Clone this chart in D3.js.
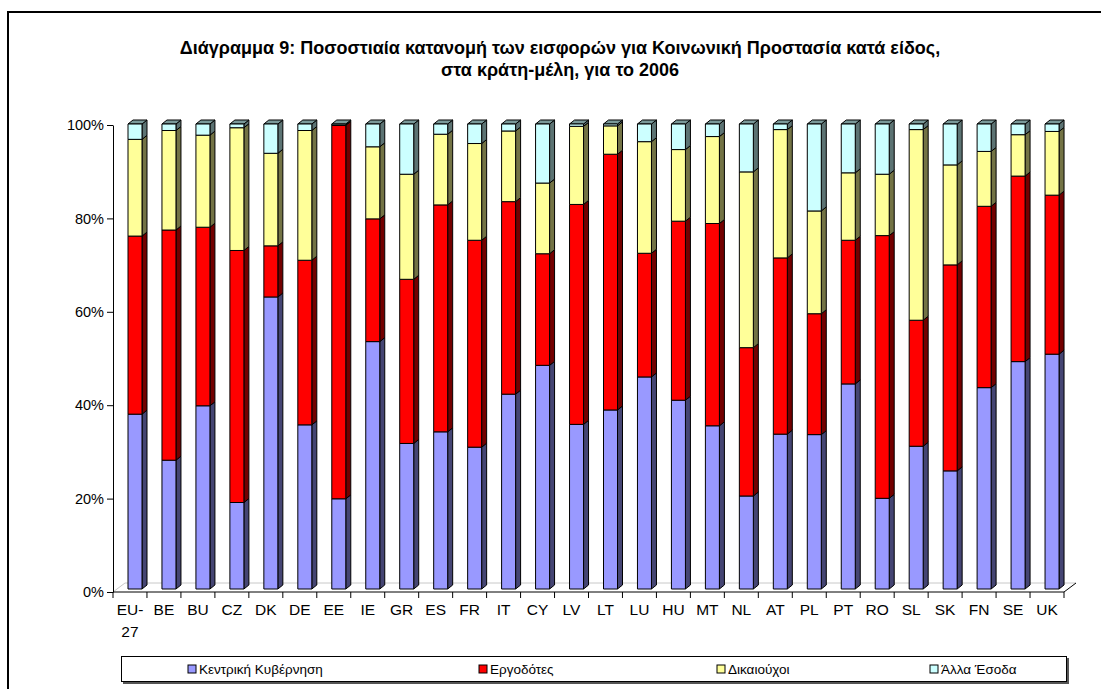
<!DOCTYPE html>
<meta charset="utf-8">
<style>
    body { margin: 0; background: #fff; }
    text { font-family: Arial, "Liberation Sans", sans-serif; fill: #000; }
    .title { font-size: 18px; font-weight: bold; }
    .yAxis text { font-size: 14.5px; }
    .yAxis path, .yAxis line { stroke: #000; }
    .catLabel { font-size: 15.5px; }
    .legend text { font-size: 13.5px; }
    .face { stroke: #000; stroke-width: 1; stroke-linejoin: round; }
</style>
<body>
<svg width="1101" height="689"></svg>
</body>
<script src="https://d3js.org/d3.v7.min.js"></script>
<script>

    // data (percent of contributions, 2006)
    var categories = ["EU-27","BE","BU","CZ","DK","DE","EE","IE","GR","ES","FR","IT","CY","LV",
                      "LT","LU","HU","MT","NL","AT","PL","PT","RO","SL","SK","FN","SE","UK"];
    var centralGov  = [37.6,27.7,39.4,18.6,62.8,35.3,19.4,53.2,31.3,33.8,30.5,41.9,48.1,35.4,
                       38.5,45.6,40.6,35.1,20.0,33.3,33.2,44.1,19.5,30.7,25.4,43.3,48.9,50.5];
    var employers   = [38.3,49.5,38.4,54.2,11.0,35.4,80.3,26.4,35.3,48.8,44.5,41.4,24.0,47.3,
                       55.0,26.6,38.5,43.5,31.9,37.9,26.0,30.9,56.5,27.1,44.3,39.0,39.9,34.2];
    var beneficiaries = [20.8,21.4,19.8,26.4,19.9,27.9,0.1,15.5,22.6,15.2,20.8,15.2,15.2,16.8,
                       6.1,24.0,15.4,18.7,37.8,27.6,22.1,14.5,13.2,41.0,21.5,11.8,8.9,13.7];
    var otherIncome = [3.3,1.4,2.4,0.8,6.3,1.4,0.2,4.9,10.8,2.2,4.2,1.5,12.7,0.5,
                       0.4,3.8,5.5,2.7,10.3,1.2,18.7,10.5,10.8,1.2,8.8,5.9,2.3,1.6];
    var seriesNames = ["Κεντρική Κυβέρνηση","Εργοδότες","Δικαιούχοι","Άλλα Έσοδα"];
    var seriesColors = ["#9999FF","#FF0000","#FFFF99","#CCFFFF"];
    var yTicks = [0,20,40,60,80,100];

    var svg = d3.select("svg");

    // outer chart frame
    svg.append("rect")
            .attr("x", 8).attr("y", 12)
            .attr("width", 1200).attr("height", 800)
            .attr("fill", "#fff")
            .attr("stroke", "#000")
            .attr("stroke-width", 2);

    // title
    var title = svg.append("text")
            .attr("class", "title")
            .attr("text-anchor", "middle");
    title.append("tspan").attr("x", 560).attr("y", 54)
            .text("Διάγραμμα 9: Ποσοστιαία κατανομή των εισφορών για Κοινωνική Προστασία κατά είδος,");
    title.append("tspan").attr("x", 560).attr("y", 76)
            .text("στα κράτη-μέλη, για το 2006");

    // scales
    var x = d3.scaleBand().domain(categories).range([113, 1064]);
    var yAxisScale = d3.scaleLinear().domain([0, 100]).range([592, 125]);
    var yBar = d3.scaleLinear().domain([0, 100]).range([589, 124]);
    var depthX = 5, depthY = 4;          // 3d offset of the columns
    var floorX = 12, floorY = 9;         // 3d offset of the floor
    var barOffset = 15, barW = 14;

    // floor (back edge + left diagonal)
    svg.append("line")
            .attr("x1", 113 + floorX).attr("y1", 592 - floorY)
            .attr("x2", 1064 + floorX).attr("y2", 592 - floorY)
            .attr("stroke", "#c8c8c8");
    svg.append("line")
            .attr("x1", 113).attr("y1", 592)
            .attr("x2", 113 + floorX).attr("y2", 592 - floorY)
            .attr("stroke", "#c8c8c8");

    // stacked data
    var rows = categories.map(function (c, i) {
        return {cat: c, s0: centralGov[i], s1: employers[i], s2: beneficiaries[i], s3: otherIncome[i]};
    });
    var keys = ["s0","s1","s2","s3"];
    var stacked = d3.stack().keys(keys)(rows);

    function shade(col, k) {
        var c = d3.rgb(col);
        return d3.rgb(c.r * k, c.g * k, c.b * k).toString();
    }

    var layers = svg.selectAll(".layer")
            .data(stacked)
            .enter().append("g")
            .attr("class", "layer");

    var seg = layers.selectAll("g")
            .data(function (d) { return d.map(function (p) { return {k: d.index, p: p}; }); })
            .enter().append("g");

    // side face
    seg.append("path")
            .attr("class", "face")
            .attr("fill", function (d) { return shade(seriesColors[d.k], 0.45); })
            .attr("d", function (d) {
                var x1 = x(d.p.data.cat) + barOffset + barW,
                    yt = yBar(d.p[1]), yb = yBar(d.p[0]);
                return "M" + x1 + "," + yb + "L" + x1 + "," + yt +
                       "L" + (x1 + depthX) + "," + (yt - depthY) +
                       "L" + (x1 + depthX) + "," + (yb - depthY) + "Z";
            });

    // top face, only on the last segment
    seg.filter(function (d) { return d.k === 3; })
            .append("path")
            .attr("class", "face")
            .attr("fill", function (d) { return shade(seriesColors[d.k], 0.6); })
            .attr("d", function (d) {
                var x0 = x(d.p.data.cat) + barOffset, yt = yBar(d.p[1]);
                return "M" + x0 + "," + yt + "L" + (x0 + depthX) + "," + (yt - depthY) +
                       "L" + (x0 + barW + depthX) + "," + (yt - depthY) +
                       "L" + (x0 + barW) + "," + yt + "Z";
            });

    // front face
    seg.append("rect")
            .attr("class", "face")
            .attr("fill", function (d) { return seriesColors[d.k]; })
            .attr("x", function (d) { return x(d.p.data.cat) + barOffset; })
            .attr("y", function (d) { return yBar(d.p[1]); })
            .attr("width", barW)
            .attr("height", function (d) { return yBar(d.p[0]) - yBar(d.p[1]); });

    // y axis
    svg.append("g")
            .attr("class", "yAxis")
            .attr("transform", "translate(113,0)")
            .call(d3.axisLeft(yAxisScale).tickValues(yTicks).tickSize(6).tickSizeOuter(0)
                    .tickFormat(function (d) { return d + "%"; }))
            .call(function (g) { g.selectAll("text").attr("x", -9); });

    // x axis line, boundary ticks and right diagonal
    svg.append("line")
            .attr("x1", 113).attr("y1", 592).attr("x2", 1064).attr("y2", 592)
            .attr("stroke", "#000");
    svg.append("line")
            .attr("x1", 1064).attr("y1", 592).attr("x2", 1064 + floorX).attr("y2", 592 - floorY)
            .attr("stroke", "#000");
    svg.selectAll(".xTick")
            .data(categories.concat(["_end"]))
            .enter().append("line")
            .attr("class", "xTick")
            .attr("x1", function (d) { return d === "_end" ? 1064 : x(d); })
            .attr("x2", function (d) { return d === "_end" ? 1064 : x(d); })
            .attr("y1", 592).attr("y2", 598)
            .attr("stroke", "#000");

    var labels = svg.selectAll(".catLabel")
            .data(categories)
            .enter().append("text")
            .attr("class", "catLabel")
            .attr("text-anchor", "middle");
    labels.each(function (d) {
        var parts = d.indexOf("-") > 0 ? [d.substring(0, d.indexOf("-") + 1), d.substring(d.indexOf("-") + 1)] : [d];
        var t = d3.select(this);
        parts.forEach(function (p, i) {
            t.append("tspan")
                    .attr("x", x(d) + x.bandwidth() / 2)
                    .attr("y", 615 + i * 22)
                    .text(p);
        });
    });

    // legend
    var legend = svg.append("g").attr("class", "legend");
    legend.append("rect")
            .attr("x", 123).attr("y", 658).attr("width", 946).attr("height", 26)
            .attr("fill", "#555");
    legend.append("rect")
            .attr("x", 121.5).attr("y", 656.5).attr("width", 945).attr("height", 25)
            .attr("fill", "#fff").attr("stroke", "#000");
    var legendX = [188, 479, 717, 930];
    var item = legend.selectAll(".item")
            .data(seriesNames)
            .enter().append("g")
            .attr("class", "item")
            .attr("transform", function (d, i) { return "translate(" + legendX[i] + ",669)"; });
    item.append("rect")
            .attr("x", 0).attr("y", -4).attr("width", 8).attr("height", 8)
            .attr("fill", function (d, i) { return seriesColors[i]; })
            .attr("stroke", "#000");
    item.append("text")
            .attr("x", 11).attr("dy", 5)
            .text(function (d) { return d; });

</script>
